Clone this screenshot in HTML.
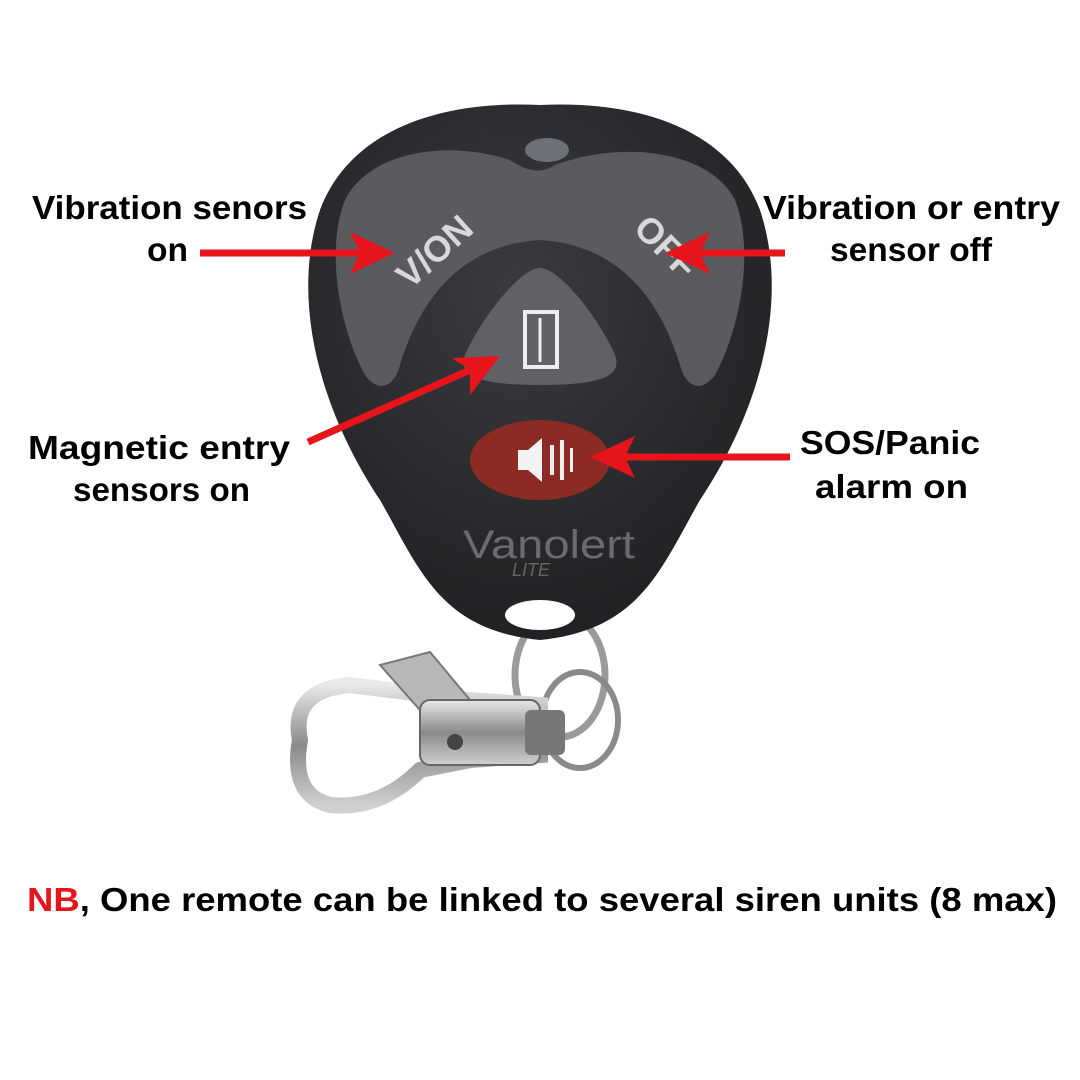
<!DOCTYPE html>
<html><head><meta charset="utf-8"><style>
html,body{margin:0;padding:0;background:#fff;}
svg{display:block}
text{font-family:"Liberation Sans",sans-serif;font-weight:bold;}
</style></head><body>
<svg width="1080" height="1080" viewBox="0 0 1080 1080" xmlns="http://www.w3.org/2000/svg">
<defs>
<linearGradient id="metal" x1="0" y1="0" x2="0" y2="1">
<stop offset="0" stop-color="#e8e8e8"/><stop offset="0.5" stop-color="#8a8a8a"/><stop offset="1" stop-color="#d0d0d0"/>
</linearGradient>
<radialGradient id="body" cx="0.45" cy="0.35" r="0.7">
<stop offset="0" stop-color="#3a3b3e"/><stop offset="1" stop-color="#1e1f21"/>
</radialGradient>
</defs>
<!-- keychain -->
<ellipse cx="560" cy="675" rx="45" ry="62" fill="none" stroke="#9a9a9a" stroke-width="7"/>
<ellipse cx="580" cy="720" rx="38" ry="48" fill="none" stroke="#8a8a8a" stroke-width="6"/>
<path d="M300 740 Q290 690 350 685 L470 700 L540 705 L540 755 L470 760 L420 770 Q380 810 330 805 Q290 795 300 740 Z" fill="none" stroke="url(#metal)" stroke-width="16"/>
<path d="M380 665 L430 652 L470 700 L420 710 Z" fill="#b8b8b8" stroke="#777" stroke-width="2"/>
<rect x="420" y="700" width="120" height="65" rx="10" fill="url(#metal)" stroke="#666" stroke-width="2"/>
<circle cx="455" cy="742" r="8" fill="#444"/>
<rect x="525" y="710" width="40" height="45" rx="6" fill="#777"/>
<!-- remote body -->
<path d="M540 105 C640 100 730 130 760 210 C790 300 760 410 700 500 C660 570 640 630 540 640 C440 630 420 570 380 500 C320 410 290 300 320 210 C350 130 440 100 540 105 Z" fill="url(#body)"/>
<ellipse cx="540" cy="615" rx="35" ry="15" fill="#fff"/>
<!-- gray buttons -->
<path d="M345 200 C370 150 450 140 510 160 C525 170 540 175 555 165 C620 140 710 150 735 200 C755 250 740 330 715 375 C700 395 685 385 680 365 C660 300 620 245 540 240 C460 245 420 300 400 365 C395 385 380 395 365 375 C340 330 325 250 345 200 Z" fill="#595b5e"/>
<ellipse cx="547" cy="150" rx="22" ry="12" fill="#6e7078"/>
<path d="M540 268 C560 268 600 320 615 355 C622 375 605 385 540 385 C475 385 458 375 465 355 C480 320 520 268 540 268 Z" fill="#5f6164"/>
<rect x="525" y="312" width="32" height="55" fill="none" stroke="#eee" stroke-width="4"/>
<line x1="540" y1="318" x2="540" y2="362" stroke="#eee" stroke-width="3"/>
<ellipse cx="540" cy="460" rx="70" ry="40" fill="#8c2a24"/>
<path d="M518 450 L528 450 L542 438 L542 482 L528 470 L518 470 Z" fill="#f2f2f2"/>
<rect x="550" y="445" width="4" height="30" fill="#eee"/><rect x="560" y="440" width="4" height="40" fill="#eee"/><rect x="570" y="448" width="3" height="24" fill="#eee"/>
<text x="410" y="290" fill="#d8d8d8" font-size="36" transform="rotate(-42 410 290)">V/ON</text>
<text x="632" y="230" fill="#d8d8d8" font-size="36" transform="rotate(45 632 230)">OFF</text>
<text x="463" y="558" fill="#6a6b6e" font-size="40" style="font-weight:normal" textLength="172" lengthAdjust="spacingAndGlyphs">Vanolert</text>
<text x="512" y="576" fill="#666" font-size="18" style="font-weight:normal;font-style:italic">LITE</text>
<!-- arrows -->
<g stroke="#e8141c" stroke-width="7" fill="#e8141c">
<line x1="200" y1="253" x2="360" y2="253"/><polygon points="395,253 350,232 360,253 350,274" stroke="none"/>
<line x1="785" y1="253" x2="700" y2="253"/><polygon points="665,253 710,232 700,253 710,274" stroke="none"/>
<line x1="308" y1="442" x2="470" y2="370"/><polygon points="500,356 452,358 470,370 470,395" stroke="none"/>
<line x1="790" y1="457" x2="625" y2="457"/><polygon points="590,457 635,436 625,457 635,478" stroke="none"/>
</g>
<!-- labels -->
<g fill="#000" font-size="33">
<text x="32" y="219" textLength="275" lengthAdjust="spacingAndGlyphs">Vibration senors</text>
<text x="147" y="261" textLength="41" lengthAdjust="spacingAndGlyphs">on</text>
<text x="763" y="219" textLength="297" lengthAdjust="spacingAndGlyphs">Vibration or entry</text>
<text x="830" y="261" textLength="162" lengthAdjust="spacingAndGlyphs">sensor off</text>
<text x="28" y="459" textLength="262" lengthAdjust="spacingAndGlyphs">Magnetic entry</text>
<text x="73" y="501" textLength="177" lengthAdjust="spacingAndGlyphs">sensors on</text>
<text x="800" y="454" textLength="180" lengthAdjust="spacingAndGlyphs">SOS/Panic</text>
<text x="815" y="498" textLength="153" lengthAdjust="spacingAndGlyphs">alarm on</text>
<text x="27" y="911" textLength="1030" lengthAdjust="spacingAndGlyphs"><tspan fill="#e8141c">NB</tspan>, One remote can be linked to several siren units (8 max)</text>
</g>
</svg>
</body></html>
